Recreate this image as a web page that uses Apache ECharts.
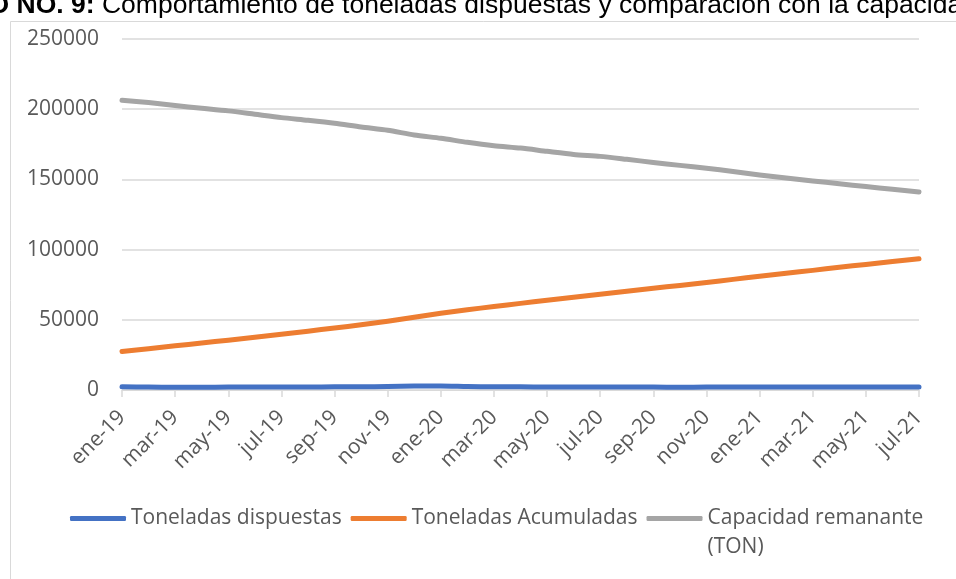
<!DOCTYPE html>
<html>
<head>
<meta charset="utf-8">
<script src="https://cdn.jsdelivr.net/npm/echarts@6/dist/echarts.min.js"></script>
<style>
  html, body { margin: 0; padding: 0; background: #ffffff; }
  #chart { width: 956px; height: 579px; }
</style>
</head>
<body>
<div id="chart"></div>
<script>
// Monthly categories, January 2019 to July 2021
const months = [
  'ene-19','feb-19','mar-19','abr-19','may-19','jun-19','jul-19','ago-19','sep-19','oct-19','nov-19','dic-19',
  'ene-20','feb-20','mar-20','abr-20','may-20','jun-20','jul-20','ago-20','sep-20','oct-20','nov-20','dic-20',
  'ene-21','feb-21','mar-21','abr-21','may-21','jun-21','jul-21'
];

// Tonnes disposed each month
const toneladasDispuestas = [
  2300, 2050, 2000, 2000, 2050, 2050, 2150, 2200, 2250, 2300, 2500, 2800,
  2900, 2500, 2300, 2250, 2200, 2200, 2150, 2150, 2100, 1950, 2150, 2200,
  2200, 2150, 2050, 2200, 2050, 2050, 2050
];

// Accumulated tonnes
const toneladasAcumuladas = [
  27400, 29450, 31450, 33450, 35500, 37550, 39700, 41900, 44150, 46450, 48950, 51750,
  54650, 57150, 59450, 61700, 63900, 66100, 68250, 70400, 72500, 74450, 76600, 78800,
  81000, 83150, 85200, 87400, 89450, 91500, 93550
];

// Remaining capacity (TON)
const capacidadRemanante = [
  206400, 204700, 202600, 200700, 198800, 196400, 194000, 192100, 190000, 187300, 185000, 181600,
  179300, 176400, 174000, 172300, 170000, 167800, 166400, 164300, 162100, 160000, 157900, 155700,
  153200, 151000, 148900, 146900, 144900, 143000, 141100
];

// Y axis tick values
const yTicks = [0, 50000, 100000, 150000, 200000, 250000];

const seriesNames = ['Toneladas dispuestas', 'Toneladas Acumuladas', 'Capacidad remanante (TON)'];
const seriesColors = ['#4472C4', '#ED7D31', '#A5A5A5'];

const font = '"Open Sans", "Noto Sans", sans-serif';
const chart = echarts.init(document.getElementById('chart'), null, { renderer: 'canvas' });

function lineSeries(name, data, color) {
  return {
    name: name,
    type: 'line',
    data: data,
    showSymbol: false,
    symbol: 'none',
    smooth: 0.25,
    lineStyle: { color: color, width: 5, cap: 'round', join: 'round' },
    itemStyle: { color: color },
    emphasis: { disabled: true }
  };
}

chart.setOption({
  animation: false,
  backgroundColor: '#ffffff',
  graphic: [
    // chart frame
    {
      type: 'rect',
      shape: { x: 10.5, y: 21.5, width: 1000, height: 600 },
      style: { fill: 'none', stroke: '#d9d9d9', lineWidth: 1 },
      silent: true
    },
    // caption
    {
      type: 'text', x: -113, y: 19,
      style: {
        text: '{b|GRÁFICO NO. 9:} Comportamiento de toneladas dispuestas y comparación con la capacidad remanante',
        verticalAlign: 'bottom',
        font: '26.5px "Liberation Sans", Arial, sans-serif',
        fill: '#000000',
        rich: {
          b: { font: 'bold 26.5px "Liberation Sans", Arial, sans-serif', fill: '#000000' }
        }
      }
    }
  ],
  grid: { left: 122, right: 37, top: 39, bottom: 189, containLabel: false },
  legend: {
    left: 70,
    top: 475,
    padding: 0,
    itemWidth: 56,
    itemHeight: 5,
    itemGap: 9,
    icon: 'roundRect',
    selectedMode: false,
    textStyle: { fontFamily: font, fontSize: 21, color: '#595959', lineHeight: 29 },
    data: seriesNames,
    formatter: function (name) {
      // last entry wraps onto a second line below its marker
      return name === seriesNames[2] ? ' \nCapacidad remanante\n(TON)' : name;
    }
  },
  xAxis: {
    type: 'category',
    data: months,
    boundaryGap: false,
    axisLine: { show: true, lineStyle: { color: '#d9d9d9', width: 1 } },
    axisTick: { show: true, interval: 1, length: 7, lineStyle: { color: '#d9d9d9', width: 1.5 } },
    axisLabel: {
      interval: 1,
      rotate: 45,
      margin: 24,
      color: '#595959',
      fontFamily: font,
      fontSize: 21
    },
    splitLine: { show: false }
  },
  yAxis: {
    type: 'value',
    min: yTicks[0],
    max: yTicks[yTicks.length - 1],
    interval: yTicks[1] - yTicks[0],
    axisLine: { show: false },
    axisTick: { show: false },
    axisLabel: {
      color: '#595959', fontFamily: font, fontSize: 21, margin: 23,
      formatter: function (v) { return String(v); }
    },
    splitLine: { show: true, lineStyle: { color: '#d9d9d9', width: 1.5 } }
  },
  series: [
    lineSeries(seriesNames[0], toneladasDispuestas, seriesColors[0]),
    lineSeries(seriesNames[1], toneladasAcumuladas, seriesColors[1]),
    lineSeries(seriesNames[2], capacidadRemanante, seriesColors[2])
  ]
});
</script>
</body>
</html>
